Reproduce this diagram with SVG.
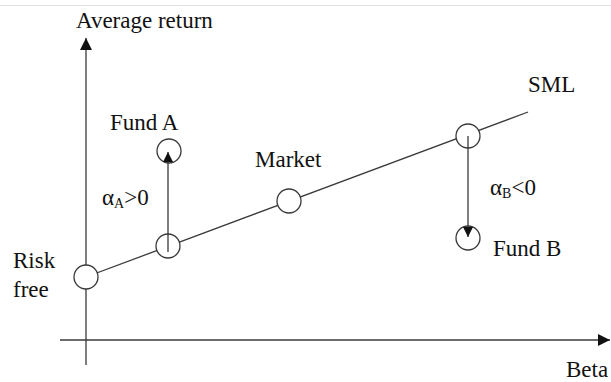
<svg xmlns="http://www.w3.org/2000/svg" width="611" height="382" viewBox="0 0 611 382">
<style>
.ln{stroke:#3a3a3a;stroke-width:1.3;fill:none}
.pt{stroke:#3a3a3a;stroke-width:1.3;fill:#fff}
.t{font-family:"Liberation Serif","Times New Roman",serif;font-size:23px;fill:#111}
.s{font-size:14px}
</style>
<defs>
<marker id="ah" viewBox="0 0 10 10" refX="10" refY="5" markerWidth="10" markerHeight="10" markerUnits="userSpaceOnUse" orient="auto"><path d="M0,0 L10,5 L0,10 Z" fill="#111"/></marker>
<marker id="ax" viewBox="0 0 12 12" refX="12" refY="6" markerWidth="13" markerHeight="12" markerUnits="userSpaceOnUse" orient="auto"><path d="M0,0 L12,6 L0,12 Z" fill="#111"/></marker>
</defs>
<rect width="611" height="382" fill="#fff"/>
<line x1="0" y1="5.5" x2="611" y2="5.5" stroke="#e2e2e2" stroke-width="1"/>
<g id="connectors">
<line id="y-axis" class="ln" x1="86" y1="365" x2="86" y2="38" marker-end="url(#ax)"/>
<line id="x-axis" class="ln" x1="60" y1="340" x2="610" y2="340" marker-end="url(#ax)"/>
<line id="sml" class="ln" x1="86" y1="277" x2="528" y2="112"/>
</g>
<g id="risk-free"><circle class="pt" cx="86" cy="277" r="12"/></g>
<g id="point-a"><circle class="pt" cx="168" cy="246" r="12"/></g>
<g id="market"><circle class="pt" cx="289" cy="201" r="12"/></g>
<g id="point-b"><circle class="pt" cx="468" cy="136" r="12"/></g>
<g id="fund-a"><circle class="pt" cx="169" cy="151" r="12"/></g>
<g id="fund-b"><circle class="pt" cx="468" cy="238" r="12"/></g>
<g id="alpha-arrows">
<line class="ln" x1="168" y1="252" x2="168" y2="152" marker-end="url(#ah)"/>
<line class="ln" x1="468" y1="136" x2="468" y2="237" marker-end="url(#ah)"/>
</g>
<g id="labels">
<text class="t" x="76" y="28">Average return</text>
<text class="t" x="110" y="130">Fund A</text>
<text class="t" x="255" y="167">Market</text>
<text class="t" x="528" y="92">SML</text>
<text class="t" x="493" y="256">Fund B</text>
<text class="t" x="13" y="268">Risk</text>
<text class="t" x="13" y="297">free</text>
<text class="t" x="566" y="377">Beta</text>
<text class="t" x="102" y="205">α<tspan class="s" dy="3">A</tspan><tspan dy="-3">&gt;0</tspan></text>
<text class="t" x="490" y="195">α<tspan class="s" dy="3">B</tspan><tspan dy="-3">&lt;0</tspan></text>
</g>
</svg>
